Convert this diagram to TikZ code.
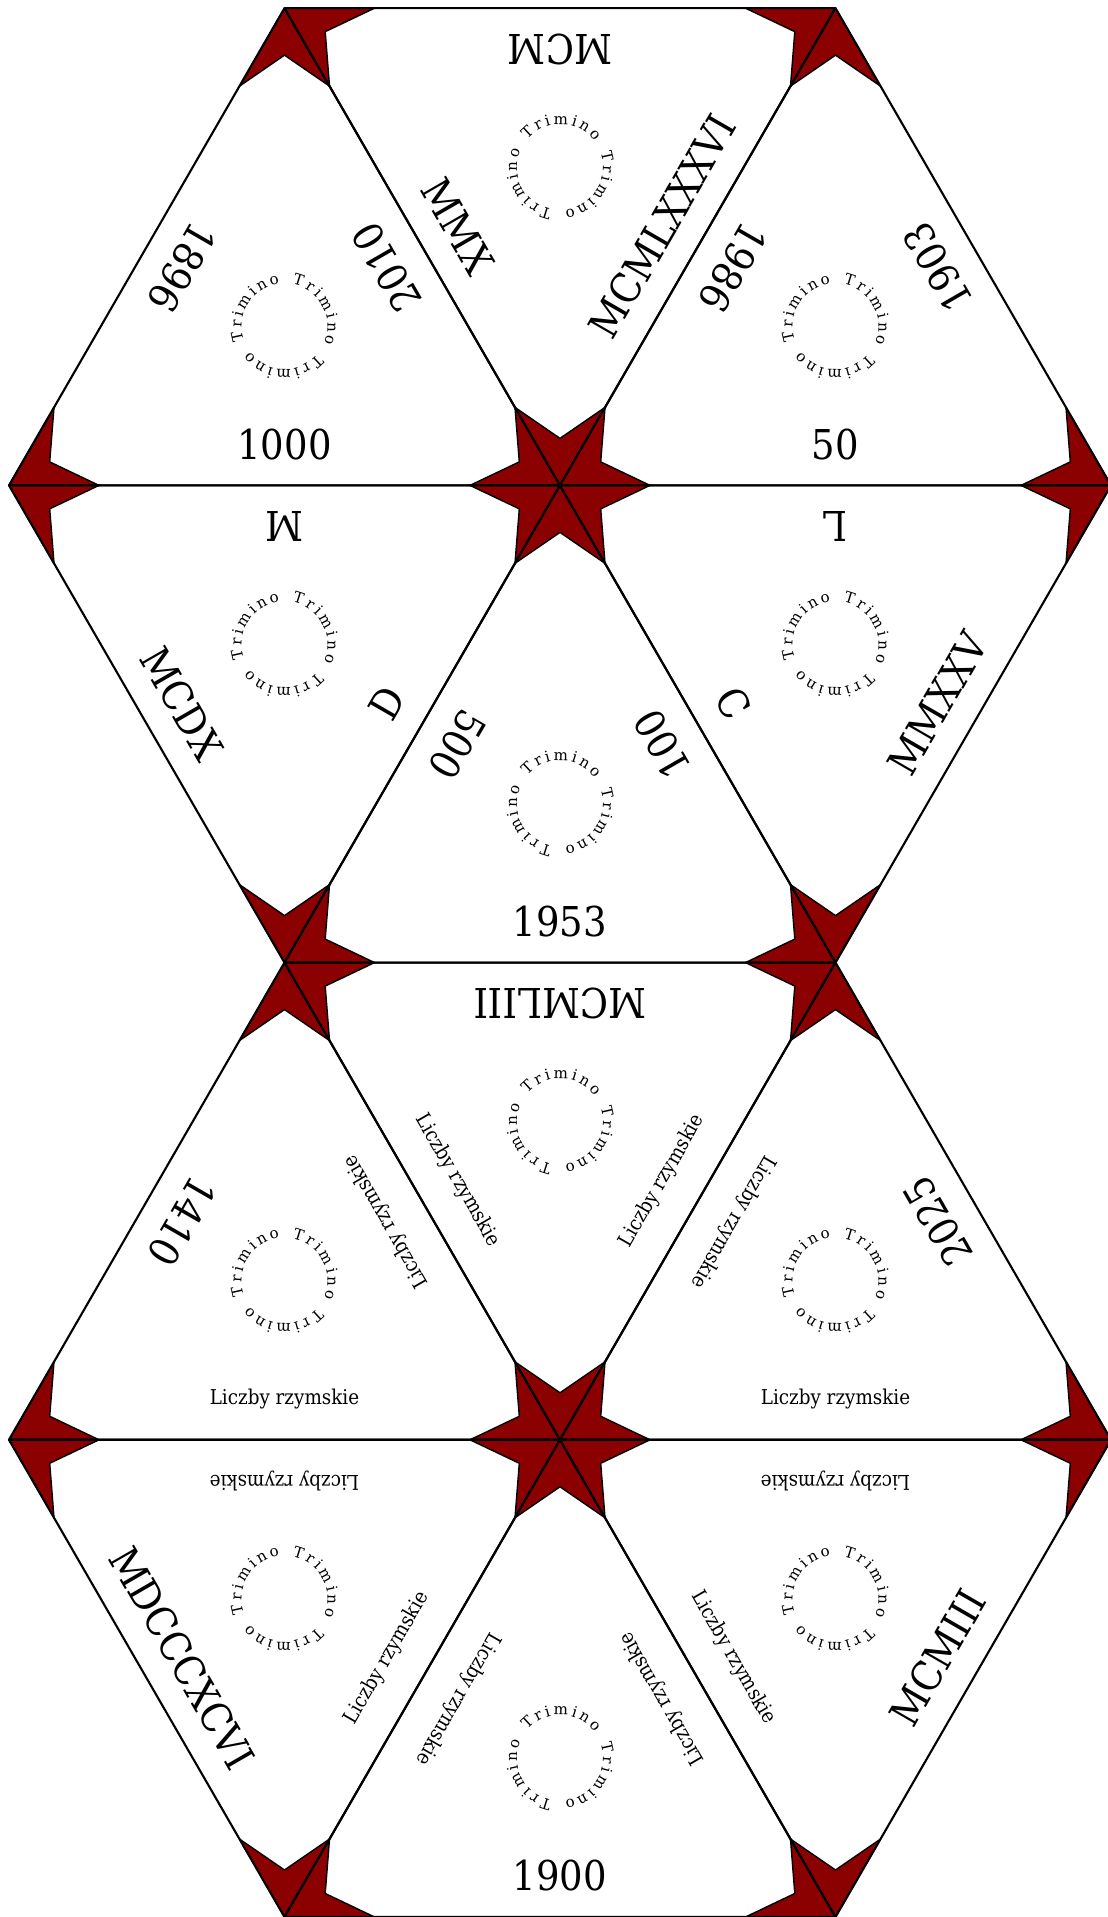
\documentclass[tikz,border=0pt]{standalone}
\usepackage{fontspec}
\setmainfont{DejaVu Serif}[FakeStretch=0.9]
\newfontfamily\ringfam{DejaVu Serif}
\usepackage{tikz}
\usetikzlibrary{calc}

\definecolor{starred}{RGB}{139,0,0}
\newcommand{\ringfont}{\ringfam\fontsize{4.3}{5}\selectfont}
\newcommand{\lr}{{\fontsize{5.8}{7}\selectfont Liczby rzymskie}}

% label on the edge #1--#2, top turned to the inside of the piece
\newcommand{\edgelabel}[3]{%
  \path let \p1=($(#2)-(#1)$), \n1={atan2(\y1,\x1)} in
    node[numlabel, rotate=\n1] at ($(#1)!0.5!(#2)!0.41cm!90:(#2)$) {#3};}

% one piece: corners counter-clockwise, three labels, angle of the ring
\newcommand{\piece}[7]{%
  \coordinate (g) at (barycentric cs:#1=1,#2=1,#3=1);
  \foreach \v/\a/\b in {#1/#2/#3,#2/#3/#1,#3/#1/#2}
    \filldraw[starcorner] (\v) -- ($(\v)!0.9cm!(\a)$) -- ($(\v)!0.47cm!(g)$)
      -- ($(\v)!0.9cm!(\b)$) -- cycle;
  \draw[edgeline] (#1) -- (#2) -- (#3) -- cycle;
  \edgelabel{#1}{#2}{#4}
  \edgelabel{#2}{#3}{#5}
  \edgelabel{#3}{#1}{#6}
  % Trimino three times round the middle
  \foreach \t in {0,120,240}
    \foreach \ch/\off in {T/-2.155,r/-1.375,i/-0.775,m/0.06,i/0.895,n/1.575,o/2.395}{
      \pgfmathsetmacro\ang{#7+\t-19.8*\off}
      \node[ringletter, rotate=\ang-90] at ($(g)+(\ang:0.43)$) {\ch};
    }
}

\begin{document}
\begin{tikzpicture}[
  edgeline/.style={line width=0.6pt, line join=round},
  starcorner/.style={fill=starred, draw=black, line width=0.4pt, line join=round},
  numlabel/.style={font=\fontsize{11.7}{14}\selectfont, inner sep=0pt},
  ringletter/.style={font=\ringfont, inner sep=0pt, anchor=base}]
\useasboundingbox (0,0) rectangle (11.07,19.17);

% grid points, row by row from the top
\coordinate (r0l) at (2.845,19.088);
\coordinate (r0r) at (8.355,19.088);
\coordinate (r1l) at (0.09,14.316);
\coordinate (r1c) at (5.60,14.316);
\coordinate (r1r) at (11.11,14.316);
\coordinate (r2l) at (2.845,9.544);
\coordinate (r2r) at (8.355,9.544);
\coordinate (r3l) at (0.09,4.772);
\coordinate (r3c) at (5.60,4.772);
\coordinate (r3r) at (11.11,4.772);
\coordinate (r4l) at (2.845,0);
\coordinate (r4r) at (8.355,0);

% first row
\piece{r1l}{r1c}{r0l}{1000}{2010}{1896}{30}
\piece{r1c}{r0r}{r0l}{MCMLXXXVI}{MCM}{MMX}{90}
\piece{r1c}{r1r}{r0r}{50}{1903}{1986}{30}

% second row
\piece{r2l}{r1c}{r1l}{D}{M}{MCDX}{30}
\piece{r2l}{r2r}{r1c}{1953}{100}{500}{90}
\piece{r2r}{r1r}{r1c}{MMXXV}{L}{C}{30}

% third row
\piece{r3l}{r3c}{r2l}{\lr}{\lr}{1410}{30}
\piece{r3c}{r2r}{r2l}{\lr}{MCMLIII}{\lr}{90}
\piece{r3c}{r3r}{r2r}{\lr}{2025}{\lr}{30}

% last row
\piece{r4l}{r3c}{r3l}{\lr}{\lr}{MDCCCXCVI}{30}
\piece{r4l}{r4r}{r3c}{1900}{\lr}{\lr}{90}
\piece{r4r}{r3r}{r3c}{MCMIII}{\lr}{\lr}{30}
\end{tikzpicture}
\end{document}
